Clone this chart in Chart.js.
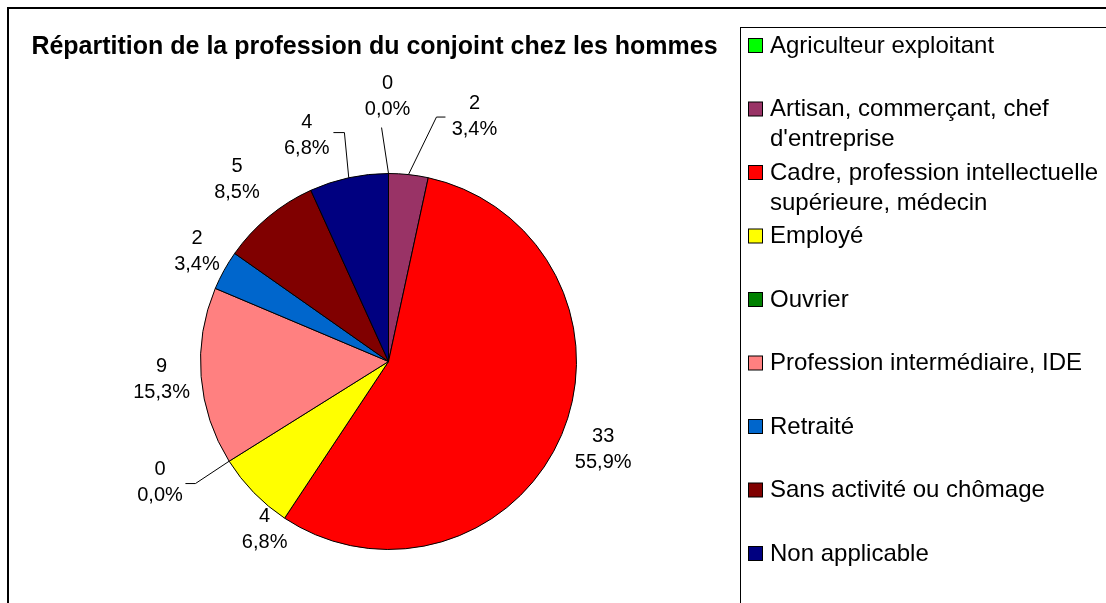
<!DOCTYPE html>
<html>
<head>
<meta charset="utf-8">
<script src="https://cdn.jsdelivr.net/npm/chart.js@4.4.0/dist/chart.umd.min.js"></script>
<style>
html,body{margin:0;padding:0;background:#fff;}
canvas{display:block;}
</style>
</head>
<body>
<canvas id="c" width="1106" height="603"></canvas>
<script>
// ---- data ----
const chartTitle = "Répartition de la profession du conjoint chez les hommes";
const categories = [
  "Agriculteur exploitant",
  "Artisan, commerçant, chef d'entreprise",
  "Cadre, profession intellectuelle supérieure, médecin",
  "Employé",
  "Ouvrier",
  "Profession intermédiaire, IDE",
  "Retraité",
  "Sans activité ou chômage",
  "Non applicable"
];
const counts = [0, 2, 33, 4, 0, 9, 2, 5, 4];

// ---- styles ----
const colors = ["#00FF00", "#993366", "#FF0000", "#FFFF00", "#008000", "#FF8080", "#0066CC", "#800000", "#000080"];
// label placement: angle from top clockwise (deg), distance as fraction of radius
const labelAngle = [-0.2, 19.2, 111.8, 216.8, 242.5, 266.0, 300.3, 320.6, 340.3];
const labelDist  = [1.42, 1.39, 1.23, 1.10, 1.37, 1.21, 1.18, 1.27, 1.29];
// leader lines: [elbowAngle, elbowDist(fraction of radius), horizontal length] or null
const leaders = [[-1.7, 1.245, 0], [11.1, 1.325, 9], null, null, [237.7, 1.215, -10], null, null, null, [-10.9, 1.24, -11]];

const FONT = '"Liberation Sans", Arial, sans-serif';
const total = counts.reduce((a, b) => a + b, 0);

function polar(cx, cy, deg, r) {
  const a = (deg - 90) * Math.PI / 180;
  return [cx + r * Math.cos(a), cy + r * Math.sin(a)];
}

const decorPlugin = {
  id: 'decor',
  beforeDraw(chart) {
    const ctx = chart.ctx;
    ctx.save();
    ctx.fillStyle = '#fff';
    ctx.fillRect(0, 0, chart.width, chart.height);
    // outer frame
    ctx.strokeStyle = '#000';
    ctx.lineWidth = 2;
    ctx.strokeRect(8, 8, 1300, 800);
    // title
    ctx.fillStyle = '#000';
    ctx.font = 'bold 25px ' + FONT;
    ctx.textAlign = 'center';
    ctx.textBaseline = 'middle';
    ctx.fillText(chartTitle, 374.5, 47);
    // legend box
    ctx.lineWidth = 1;
    ctx.strokeRect(740.5, 27.5, 600, 700);
    ctx.font = '24px ' + FONT;
    ctx.textAlign = 'left';
    const maxW = 337;
    categories.forEach((cat, i) => {
      const y0 = 45 + i * 63.5;
      ctx.fillStyle = colors[i];
      ctx.fillRect(748.5, y0 - 6.5, 14, 14);
      ctx.strokeStyle = '#000';
      ctx.strokeRect(748.5, y0 - 6.5, 14, 14);
      // wrap
      const words = cat.split(' ');
      const lines = [];
      let cur = '';
      words.forEach(w => {
        const t = cur ? cur + ' ' + w : w;
        if (ctx.measureText(t).width > maxW && cur) { lines.push(cur); cur = w; }
        else cur = t;
      });
      if (cur) lines.push(cur);
      ctx.fillStyle = '#000';
      lines.forEach((ln, k) => ctx.fillText(ln, 770, y0 + 1 + k * 30));
    });
    ctx.restore();
  },
  afterDatasetsDraw(chart) {
    const ctx = chart.ctx;
    const meta = chart.getDatasetMeta(0);
    ctx.save();
    ctx.font = '20px ' + FONT;
    ctx.fillStyle = '#000';
    ctx.strokeStyle = '#000';
    ctx.lineWidth = 1;
    ctx.textAlign = 'center';
    ctx.textBaseline = 'middle';
    meta.data.forEach((arc, i) => {
      const {x, y, outerRadius, startAngle, endAngle} = arc.getProps(['x', 'y', 'outerRadius', 'startAngle', 'endAngle'], true);
      const [lx, ly] = polar(x, y, labelAngle[i], outerRadius * labelDist[i]);
      const pct = (counts[i] / total * 100).toFixed(1).replace('.', ',') + '%';
      ctx.fillText(String(counts[i]), lx, ly - 11);
      ctx.fillText(pct, lx, ly + 15);
      const ld = leaders[i];
      if (ld) {
        const mid = (startAngle + endAngle) / 2;
        const ex = x + outerRadius * Math.cos(mid), ey = y + outerRadius * Math.sin(mid);
        const [px, py] = polar(x, y, ld[0], outerRadius * ld[1]);
        ctx.beginPath();
        ctx.moveTo(ex, ey);
        ctx.lineTo(px, py);
        if (ld[2]) ctx.lineTo(px + ld[2], py);
        ctx.stroke();
      }
    });
    ctx.restore();
  }
};

new Chart(document.getElementById('c'), {
  type: 'pie',
  data: {
    labels: categories,
    datasets: [{
      data: counts,
      backgroundColor: colors,
      borderColor: '#000',
      borderWidth: 1,
      hoverOffset: 0,
      offset: 0
    }]
  },
  options: {
    responsive: false,
    animation: false,
    events: [],
    layout: { padding: { left: 200, right: 529, top: 173, bottom: 53 } },
    plugins: { legend: { display: false }, title: { display: false }, tooltip: { enabled: false } }
  },
  plugins: [decorPlugin]
});
</script>
</body>
</html>
